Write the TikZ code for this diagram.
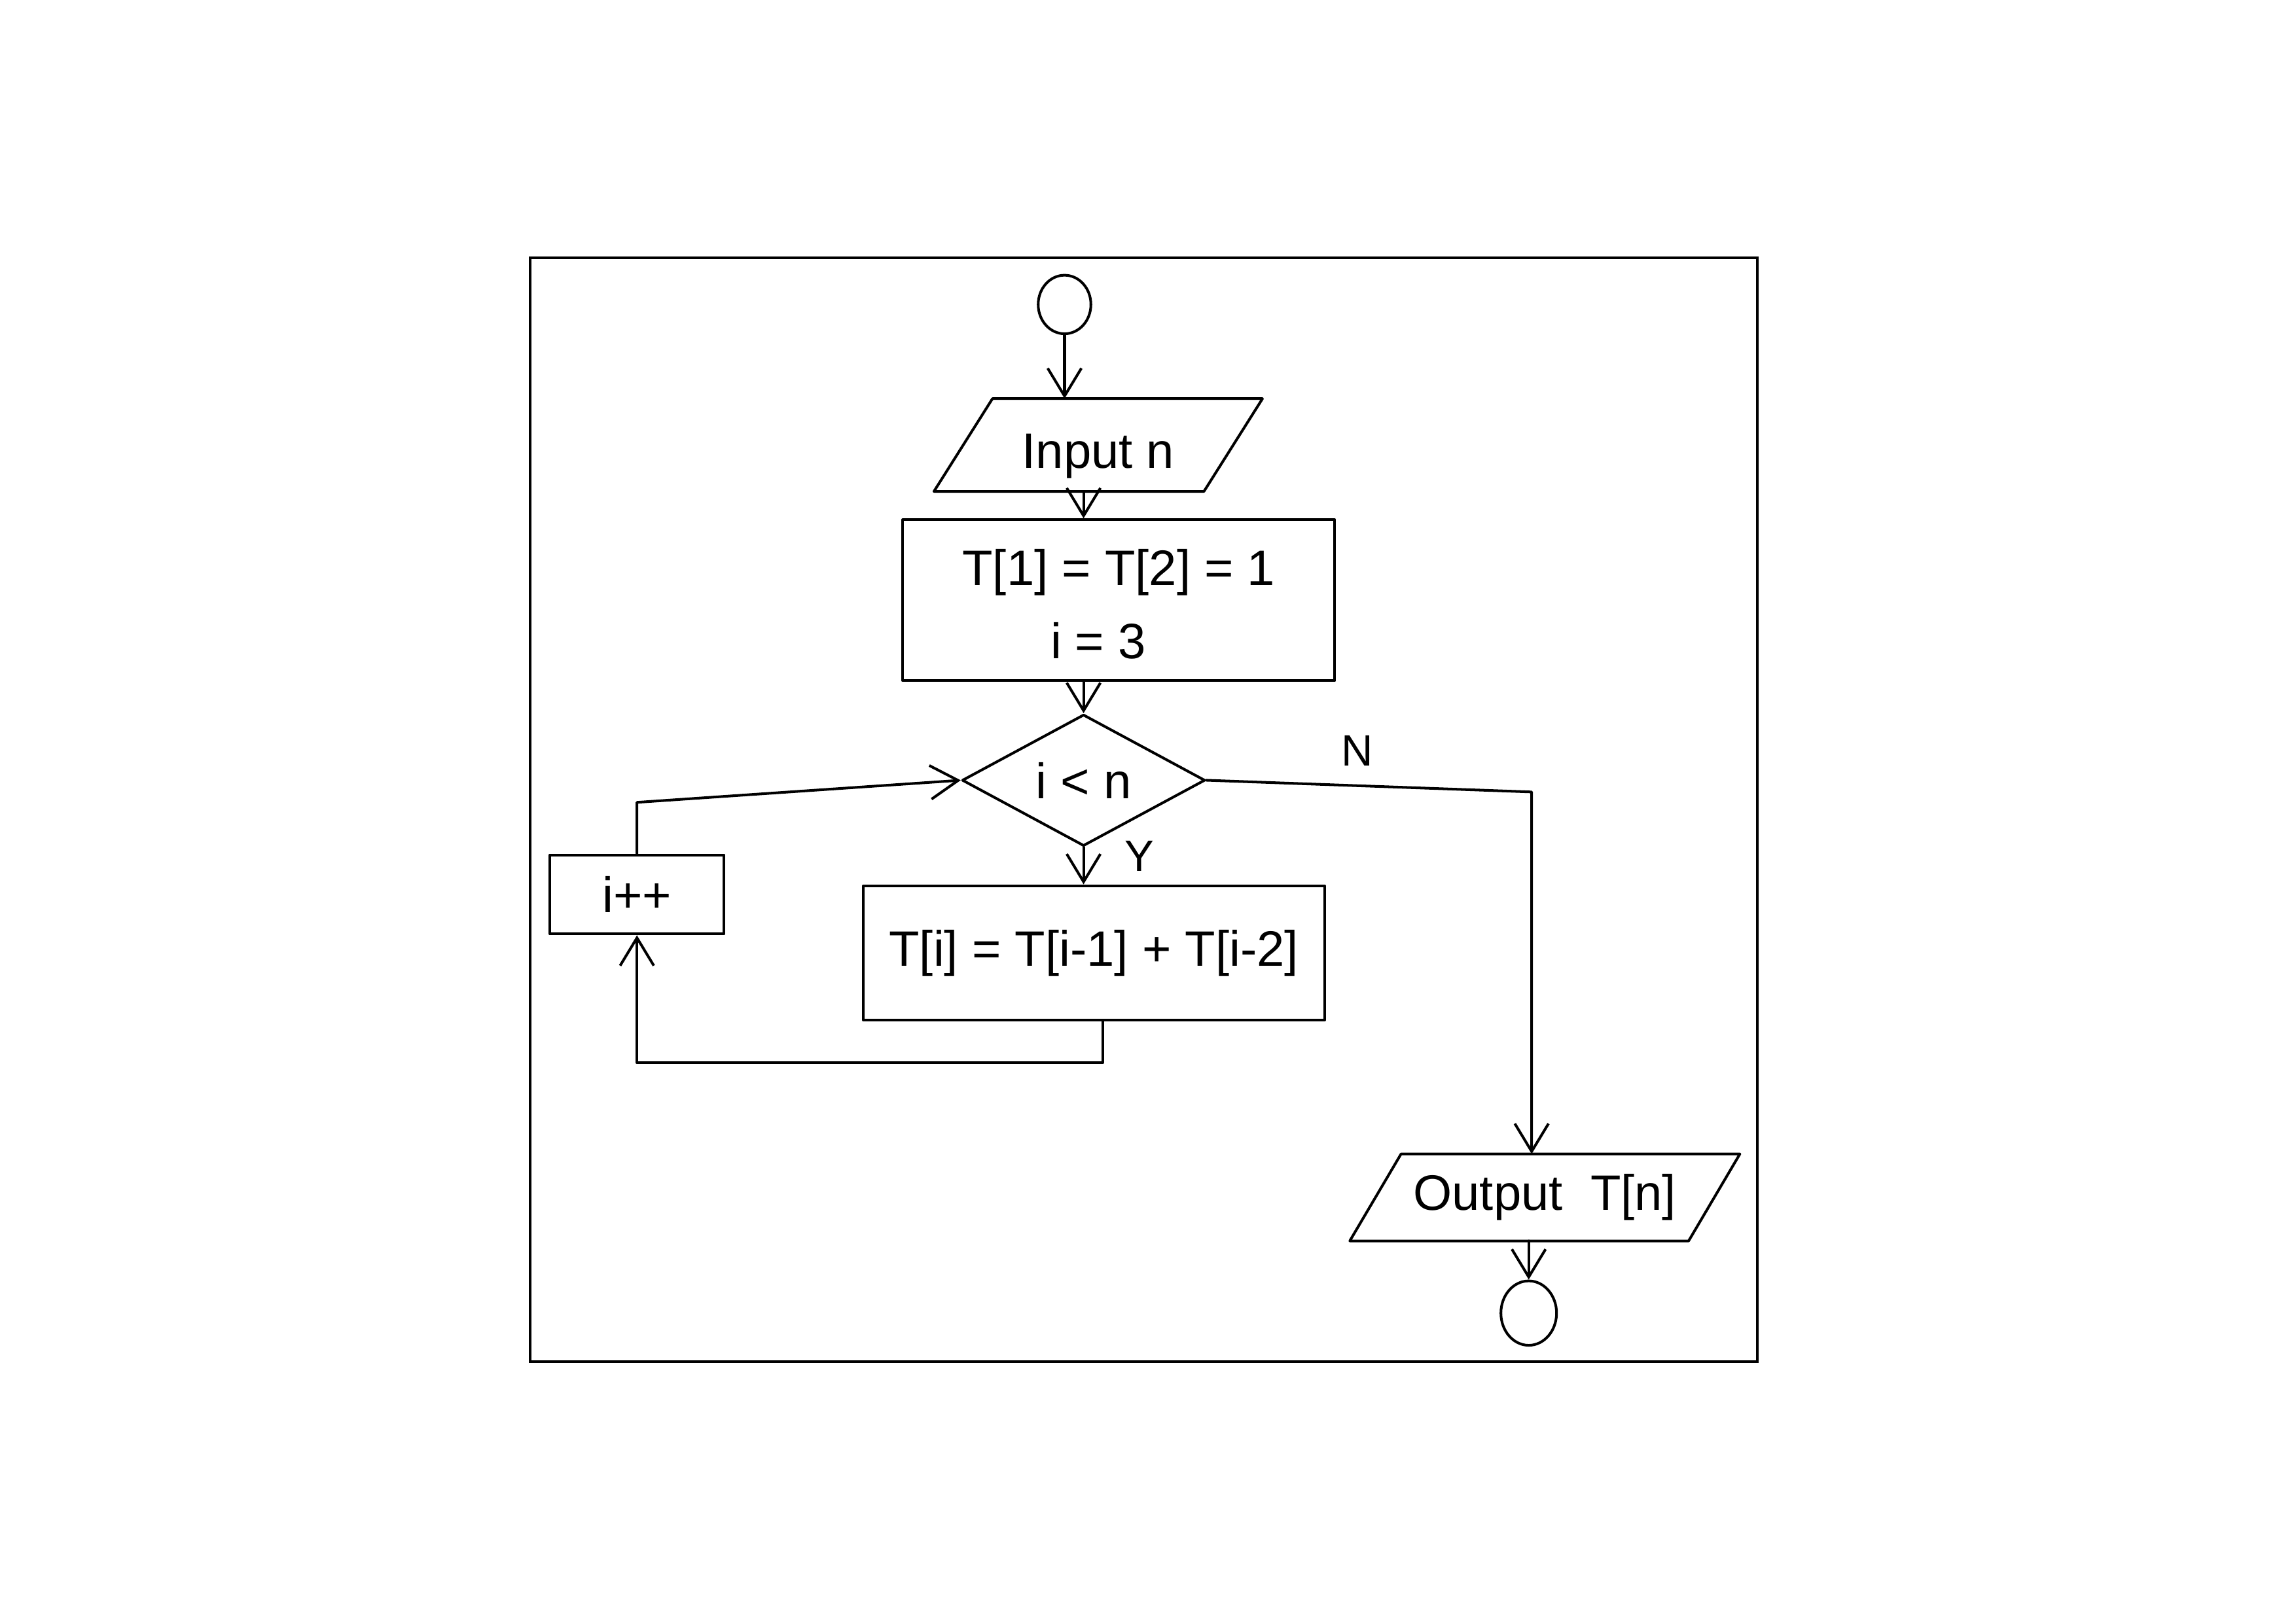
\documentclass[tikz,border=0pt]{standalone}
\usepackage{fontspec}
\setmainfont{Liberation Sans}
\usetikzlibrary{shapes.geometric,arrows.meta,calc}
\begin{document}
\begin{tikzpicture}[x=1pt,y=-1pt,
  every node/.style={font=\fontsize{34}{50}\selectfont, inner sep=0pt},
  ln/.style={line width=1.8pt, line join=round, line cap=round},
  arr/.style={ln, -{Straight Barb[length=19pt,width=23pt,line width=1.8pt]}},
  boxs/.style={draw, ln, rectangle},
  terms/.style={draw, ln, ellipse},
  lab/.style={font=\fontsize{30}{36}\selectfont}]
\useasboundingbox (0,0) rectangle (1568,1109);
\fill[white] (0,0) rectangle (1568,1109);
\draw[line width=1.9pt] (362,176) rectangle (1200,930);

\node[terms, minimum width=36pt, minimum height=40pt] (start) at (727,208) {};
\node[minimum width=224pt, minimum height=63pt, text height=32pt, text depth=0pt] (input) at (750,304) {Input n};
\draw[ln] ([xshift=40pt]input.north west) -- (input.north east)
  -- ([xshift=-40pt]input.south east) -- (input.south west) -- cycle;
\node[boxs, minimum width=295pt, minimum height=110pt, align=center] (init) at (764,410) {\rule{0pt}{30pt}T[1] = T[2] = 1\\\hspace*{-28pt}i = 3};
\node[draw, ln, diamond, minimum width=166pt, minimum height=82pt] (dec) at (740,533) {i < n};
\node[boxs, minimum width=315pt, minimum height=92pt] (calc) at (747,651) {T[i] = T[i-1] + T[i-2]};
\node[boxs, minimum width=119pt, minimum height=54pt] (inc) at (435,611) {i++};
\node[minimum width=266pt, minimum height=59pt] (out) at (1055,818) {Output\ \ T[n]};
\draw[ln] ([xshift=35pt]out.north west) -- (out.north east)
  -- ([xshift=-35pt]out.south east) -- (out.south west) -- cycle;
\node[terms, minimum width=38pt, minimum height=44pt] (stop) at (1044,897) {};

\node[lab] (ylab) at (778,585) {Y};
\node[lab] (nlab) at (927,513) {N};

\coordinate (ncorner) at (1046,541);
\coordinate (loopb) at (753,726);

\draw[arr] (start.south) -- (start.south |- input.north);
\draw[arr] (input.south -| dec.north) -- (init.north -| dec.north);
\draw[arr] (init.south -| dec.north) -- (dec.north);
\draw[arr] (dec.south) -- (dec.south |- calc.north);
\draw[arr] (calc.south -| loopb) -- (loopb) -| (inc.south);
\draw[arr] (inc.north) -- ++(0,-35) -- (dec.west);
\draw[arr] (dec.east) -- (ncorner) -- (ncorner |- out.north);
\draw[arr] (out.south -| stop.north) -- (stop.north);
\end{tikzpicture}
\end{document}
